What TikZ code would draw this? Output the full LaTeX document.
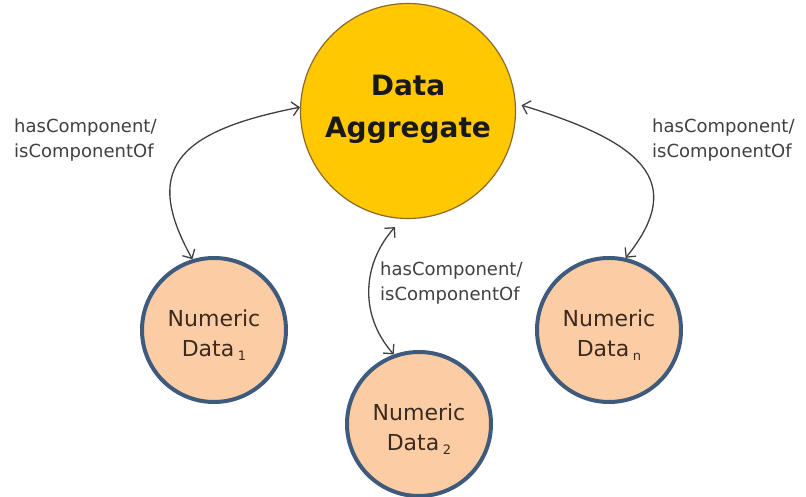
\documentclass[tikz,border=0pt]{standalone}
\usepackage{fontspec}
\setmainfont{DejaVu Sans}
\usetikzlibrary{arrows.meta}
\definecolor{aggfill}{HTML}{FFC800}
\definecolor{aggline}{HTML}{8A6A2A}
\definecolor{numfill}{HTML}{FCCDA4}
\definecolor{numline}{HTML}{3E5A7C}
\definecolor{numtext}{HTML}{3B2A1E}
\definecolor{reltext}{HTML}{404040}
\newcommand{\subidx}[1]{\,{\fontsize{13}{13}\selectfont\raisebox{-4pt}{#1}}}
\begin{document}
\begin{tikzpicture}[x=1pt,y=1pt,
 agg/.style={circle, fill=aggfill, draw=aggline, line width=1.2pt, minimum size=215pt, inner sep=0pt},
 aggtext/.style={text=black!90, align=center, font=\bfseries\fontsize{28}{42}\selectfont, inner sep=0pt},
 num/.style={circle, fill=numfill, draw=numline, line width=4pt, minimum size=144pt, inner sep=0pt},
 numlabel/.style={text=numtext, align=center, font=\fontsize{22}{30}\selectfont, inner sep=0pt},
 rel/.style={text=reltext, align=left, font=\fontsize{18}{25}\selectfont, inner sep=0pt, anchor=north west},
 link/.style={draw=reltext, line width=1.3pt, {Straight Barb[length=7pt,width=14pt]}-{Straight Barb[length=7pt,width=14pt]}}]
\useasboundingbox (0,0) rectangle (806,497);
\node[agg] (agg) at (408,386) {};
\node[aggtext] (aggt) at ([yshift=2pt]agg.center) {Data\\Aggregate};
\node[num] (n1) at (214,167) {};
\node[num] (n2) at (419,73) {};
\node[num] (n3) at (609,167) {};
\node[numlabel] (n1t) at ([yshift=-5.6pt]n1.center) {Numeric\\Data\subidx{1}};
\node[numlabel] (n2t) at ([yshift=-5.6pt]n2.center) {Numeric\\Data\subidx{2}};
\node[numlabel] (n3t) at ([yshift=-5.6pt]n3.center) {Numeric\\Data\subidx{n}};
\node[rel] (r1) at (14,378) {hasComponent/\\isComponentOf};
\node[rel] (r3) at (652,378) {hasComponent/\\isComponentOf};
\node[rel] (r2) at (380,235) {hasComponent/\\isComponentOf};
\draw[link] (agg.178) to[out=191, in=119, out distance=130pt, in distance=100pt] (n1.107);
\draw[link, shorten <=11pt] (agg.267) to[out=228, in=131, out distance=58pt, in distance=55pt] (n2.110);
\draw[link, shorten <=6pt] (agg.4) to[out=343, in=51, out distance=130pt, in distance=100pt] (n3.77);
\end{tikzpicture}
\end{document}
